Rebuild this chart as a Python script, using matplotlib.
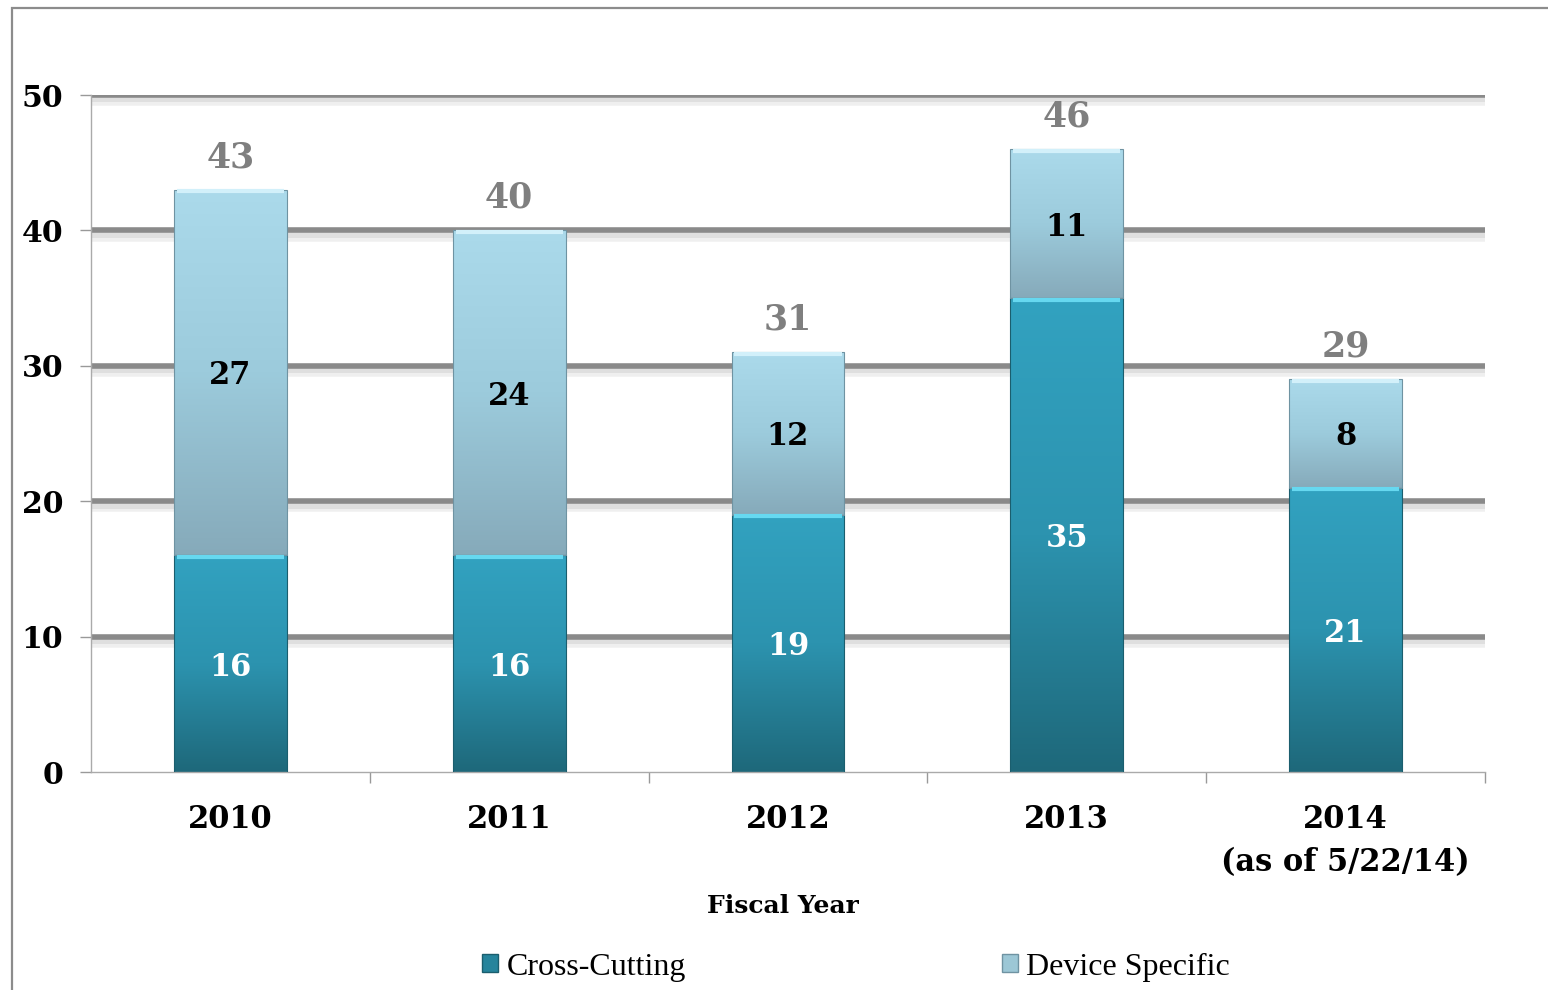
import numpy as np
import matplotlib
matplotlib.use("Agg")
import matplotlib.pyplot as plt
import matplotlib.patheffects as pe
from matplotlib.colors import LinearSegmentedColormap
from matplotlib.patches import Rectangle, Patch

years = ["2010", "2011", "2012", "2013", "2014\n(as of 5/22/14)"]
cross_cutting = [16, 16, 19, 35, 21]
device_specific = [27, 24, 12, 11, 8]
totals = [c + d for c, d in zip(cross_cutting, device_specific)]
yticks = [0, 10, 20, 30, 40, 50]

SERIF = "DejaVu Serif"
GRID = "#8a8a8a"

fig = plt.figure(figsize=(15.48, 9.9), dpi=100)
ax = fig.add_axes([91 / 1548, 1 - 772 / 990, (1485 - 91) / 1548, (772 - 95) / 990])

# outer frame like the pasted chart border
fig.patches.append(Rectangle((12 / 1548, -0.1), 1.2, 1.1 - 8 / 990, transform=fig.transFigure,
                             fill=False, edgecolor="#8c8c8c", lw=1.6))

x = np.arange(len(years))
w = 0.405
b1 = ax.bar(x, cross_cutting, w, color="none", edgecolor="#1b5e6e", lw=0.8, zorder=3)
b2 = ax.bar(x, device_specific, w, bottom=cross_cutting, color="none",
            edgecolor="#6f93a2", lw=0.8, zorder=3)

cmap_c = LinearSegmentedColormap.from_list("c", ["#1e687a", "#2c93af", "#32a2c0"])
cmap_d = LinearSegmentedColormap.from_list("d", ["#86aaba", "#9ccbdc", "#abdaeb"])
grad = np.linspace(0, 1, 256).reshape(-1, 1)
for bars, cmap, hi in [(b1, cmap_c, "#66d8f0"), (b2, cmap_d, "#d2f0fa")]:
    for p in bars:
        x0, y0 = p.get_x(), p.get_y()
        pw, ph = p.get_width(), p.get_height()
        im = ax.imshow(grad, cmap=cmap, origin="lower", aspect="auto",
                       extent=[x0, x0 + pw, y0, y0 + ph], zorder=2)
        im.set_clip_path(p)
        # light bevel on top edge
        ax.plot([x0 + 0.01, x0 + pw - 0.01], [y0 + ph - 0.12] * 2, color=hi,
                lw=3, solid_capstyle="butt", zorder=4)

for i in range(len(years)):
    ax.text(x[i], cross_cutting[i] / 2 - 0.25, str(cross_cutting[i]), ha="center", va="center",
            color="white", fontsize=22, fontweight="bold", family=SERIF, zorder=5)
    ax.text(x[i], cross_cutting[i] + device_specific[i] / 2 - 0.25, str(device_specific[i]),
            ha="center", va="center", color="black", fontsize=22, fontweight="bold",
            family=SERIF, zorder=5)
    ax.text(x[i], totals[i] + 2.4, str(totals[i]), ha="center", va="center",
            color="#7f7f7f", fontsize=25, fontweight="bold", family=SERIF, zorder=5)

ax.set_xlim(-0.5, len(years) - 0.5)
ax.set_ylim(0, 50)
ax.set_yticks(yticks)
ax.set_yticklabels([str(t) for t in yticks], fontsize=21.5, fontweight="bold", family=SERIF)
ax.set_xticks(x)
ax.set_xticklabels(years, fontsize=22, fontweight="bold", family=SERIF, linespacing=1.5)
ax.set_xticks(x + 0.5, minor=True)
ax.tick_params(axis="x", which="major", length=0, pad=23)
ax.tick_params(axis="x", which="minor", length=8, color="#999999", width=1)
ax.tick_params(axis="y", length=8, color="#999999", width=1, pad=12)

for s in ["top", "right"]:
    ax.spines[s].set_visible(False)
for s in ["left", "bottom"]:
    ax.spines[s].set_color("#aaaaaa")
    ax.spines[s].set_linewidth(1)

ax.yaxis.grid(True, color=GRID, lw=4, zorder=1)
ax.set_axisbelow(True)
for gl in ax.yaxis.get_gridlines():
    gl.set_path_effects([pe.SimpleLineShadow(offset=(1, -3), shadow_color="#aaaaaa",
                                             alpha=0.18, linewidth=9),
                         pe.SimpleLineShadow(offset=(1, -2.5), shadow_color="#999999",
                                             alpha=0.18, linewidth=5),
                         pe.Normal()])
ax.yaxis.get_gridlines()[0].set_visible(False)

fig.text(783 / 1548, 1 - 906 / 990, "Fiscal Year", ha="center", va="center",
         fontsize=18, fontweight="bold", family=SERIF)

handles = [Patch(facecolor="#26849c", edgecolor="#1b5e6e"),
           Patch(facecolor="#9cc7d6", edgecolor="#6f93a2")]
fig.legend(handles, ["Cross-Cutting", "Device Specific"], loc="center",
           bbox_to_anchor=(856 / 1548, 1 - 967 / 990), ncol=2, frameon=False,
           prop={"family": "Liberation Serif", "size": 23},
           handlelength=0.5, handleheight=0.5, handletextpad=0.25, columnspacing=9.9)

fig.savefig("out.png", dpi=100)
